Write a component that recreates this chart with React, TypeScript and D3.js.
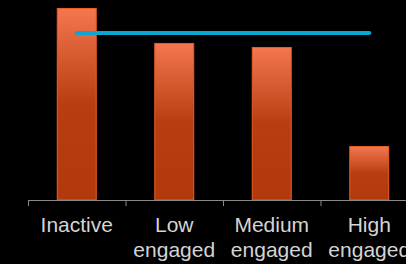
import React, { useEffect, useRef } from 'react';
import * as d3 from 'd3';

// engagement segments (line 1 / line 2 of each label)
const categories = ['Inactive', 'Low engaged', 'Medium engaged', 'High engaged'];
const labelTop = ['Inactive', 'Low', 'Medium', 'High'];
const labelBottom = ['', 'engaged', 'engaged', 'engaged'];
// bar values (index, Inactive = 100)
const values = [100, 81.8, 79.7, 28.1];
// reference line (average)
const average = 87;

const W = 406;
const H = 264;

const App: React.FC = () => {
    const svgRef = useRef<SVGSVGElement>(null);

    useEffect(() => {
        document.body.style.margin = '0';
        document.body.style.background = '#000';
        if (!svgRef.current) return;

        const svg = d3.select(svgRef.current);
        svg.selectAll('*').remove();

        const baseY = 200;
        const x = d3.scaleBand<string>()
            .domain(categories)
            .range([28, 418])
            .paddingInner(0.59)
            .paddingOuter(0.295);
        const y = d3.scaleLinear().domain([0, 100]).range([baseY, 8]);
        const step = x.step();

        const defs = svg.append('defs');
        const grad = defs.append('linearGradient')
            .attr('id', 'barGrad')
            .attr('x1', 0).attr('y1', 0).attr('x2', 0).attr('y2', 1);
        grad.append('stop').attr('offset', '0%').attr('stop-color', '#f4774f');
        grad.append('stop').attr('offset', '50%').attr('stop-color', '#b83e12');
        grad.append('stop').attr('offset', '100%').attr('stop-color', '#b2390b');

        // bars
        svg.append('g')
            .selectAll('rect')
            .data(values)
            .join('rect')
            .attr('x', (_, i) => x(categories[i])! + 0.5)
            .attr('y', d => y(d) + 0.5)
            .attr('width', x.bandwidth() - 1)
            .attr('height', d => baseY - y(d) - 0.5)
            .attr('fill', 'url(#barGrad)')
            .attr('stroke', '#ec5c26')
            .attr('stroke-width', 1);

        // axis line + ticks at band boundaries
        const axis = svg.append('g');
        axis.append('line')
            .attr('x1', 28).attr('x2', W)
            .attr('y1', baseY + 0.5).attr('y2', baseY + 0.5)
            .attr('stroke', '#8a8a8a')
            .attr('stroke-width', 1);
        axis.selectAll('line.tick')
            .data(d3.range(categories.length))
            .join('line')
            .attr('class', 'tick')
            .attr('x1', i => 28 + i * step + 0.5)
            .attr('x2', i => 28 + i * step + 0.5)
            .attr('y1', baseY)
            .attr('y2', baseY + 6)
            .attr('stroke', '#8a8a8a')
            .attr('stroke-width', 1);

        // labels
        const labels = svg.append('g')
            .attr('font-family', 'Liberation Sans, Arial, sans-serif')
            .attr('font-size', 21)
            .attr('fill', '#d4d4d4')
            .attr('text-anchor', 'middle');
        categories.forEach((c, i) => {
            const cx = x(c)! + x.bandwidth() / 2;
            labels.append('text').attr('x', cx).attr('y', 232).text(labelTop[i]);
            if (labelBottom[i]) {
                labels.append('text').attr('x', cx).attr('y', 257).text(labelBottom[i]);
            }
        });

        // average line from first to last band centre
        const first = x(categories[0])! + x.bandwidth() / 2;
        const last = x(categories[categories.length - 1])! + x.bandwidth() / 2;
        svg.append('line')
            .attr('x1', first)
            .attr('x2', last)
            .attr('y1', y(average))
            .attr('y2', y(average))
            .attr('stroke', '#0aa8d0')
            .attr('stroke-width', 4)
            .attr('stroke-linecap', 'round');
    }, []);

    return (
        <svg
            ref={svgRef}
            width={W}
            height={H}
            style={{ position: 'absolute', left: 0, top: 0, background: '#000', display: 'block' }}
        />
    );
};

export default App;
